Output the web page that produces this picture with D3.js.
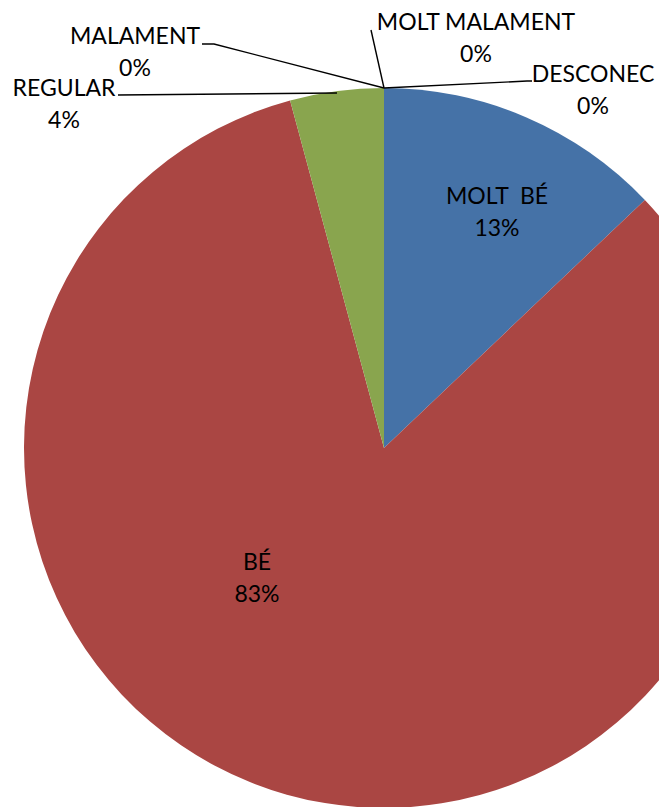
<!DOCTYPE html>
<html>
<head>
<meta charset="utf-8">
<script src="https://cdn.jsdelivr.net/npm/d3@7"></script>
<style>
  body { margin: 0; background: #fff; }
  svg { display: block; }
</style>
</head>
<body>
<script>
let categories = ['MOLT  BÉ', 'BÉ', 'REGULAR', 'MALAMENT', 'MOLT MALAMENT', 'DESCONEC']
let values = [12.9, 82.9, 4.2, 0, 0, 0]
let colors = ['#4572A7', '#AA4643', '#89A54E', '#71588F', '#4198AF', '#DB843D']

let width = 659,
  height = 807

let cx = 384,
  cy = 448,
  radius = 360

// label placement relative to pie centre (first line baseline) and leader line points
let labelLayout = {
  'MOLT  BÉ': { x: 113, y: -244 },
  'BÉ': { x: -127, y: 122 },
  'REGULAR': { x: -320, y: -352, lead: [[-266, -353], [-47, -355]] },
  'MALAMENT': { x: -249, y: -404, lead: [[-182, -404], [-170, -404]] },
  'MOLT MALAMENT': { x: 92, y: -418, lead: [[-13, -418]] },
  'DESCONEC': { x: 209, y: -366, lead: [[148, -367], [143, -367]] }
}

let data = categories.map((c, i) => ({ name: c, value: values[i], color: colors[i] }))
let total = d3.sum(values)

let svg = d3.select('body')
  .append('svg')
  .attr('width', width)
  .attr('height', height)
  .style('background', '#fff')

let chart = svg.append('g')
  .attr('transform', `translate(${cx}, ${cy})`)

let pie = d3.pie()
  .sort(null)
  .value(d => d.value)
  .startAngle(0)
  .endAngle(2 * Math.PI)

let arc = d3.arc()
  .innerRadius(0)
  .outerRadius(radius)

let arcs = pie(data)

chart.selectAll('path.slice')
  .data(arcs.filter(d => d.data.value > 0))
  .enter()
  .append('path')
  .attr('class', 'slice')
  .attr('d', arc)
  .attr('fill', d => d.data.color)

// leader lines; zero slices get pulled down to the point where they sit on the rim
arcs.forEach(d => {
  let pos = labelLayout[d.data.name]
  if (!pos.lead) return
  let pts = pos.lead
  if (d.data.value === 0) {
    let a = d.startAngle
    pts = [...pos.lead, [radius * Math.sin(a), -radius * Math.cos(a)]]
  }
  chart.append('path')
    .attr('d', d3.line()(pts))
    .attr('fill', 'none')
    .attr('stroke', '#000')
    .attr('stroke-width', 1.4)
})

let labels = chart.selectAll('text.lbl')
  .data(arcs)
  .enter()
  .append('text')
  .attr('class', 'lbl')
  .attr('x', d => labelLayout[d.data.name].x)
  .attr('y', d => labelLayout[d.data.name].y)
  .attr('text-anchor', 'middle')
  .attr('font-family', 'Lato, sans-serif')
  .attr('font-size', '23px')
  .attr('fill', '#000')
  .style('white-space', 'pre')

labels.append('tspan')
  .attr('x', d => labelLayout[d.data.name].x)
  .text(d => d.data.name)

labels.append('tspan')
  .attr('x', d => labelLayout[d.data.name].x)
  .attr('dy', 32)
  .text(d => Math.round(d.data.value / total * 100) + '%')
</script>
</body>
</html>
